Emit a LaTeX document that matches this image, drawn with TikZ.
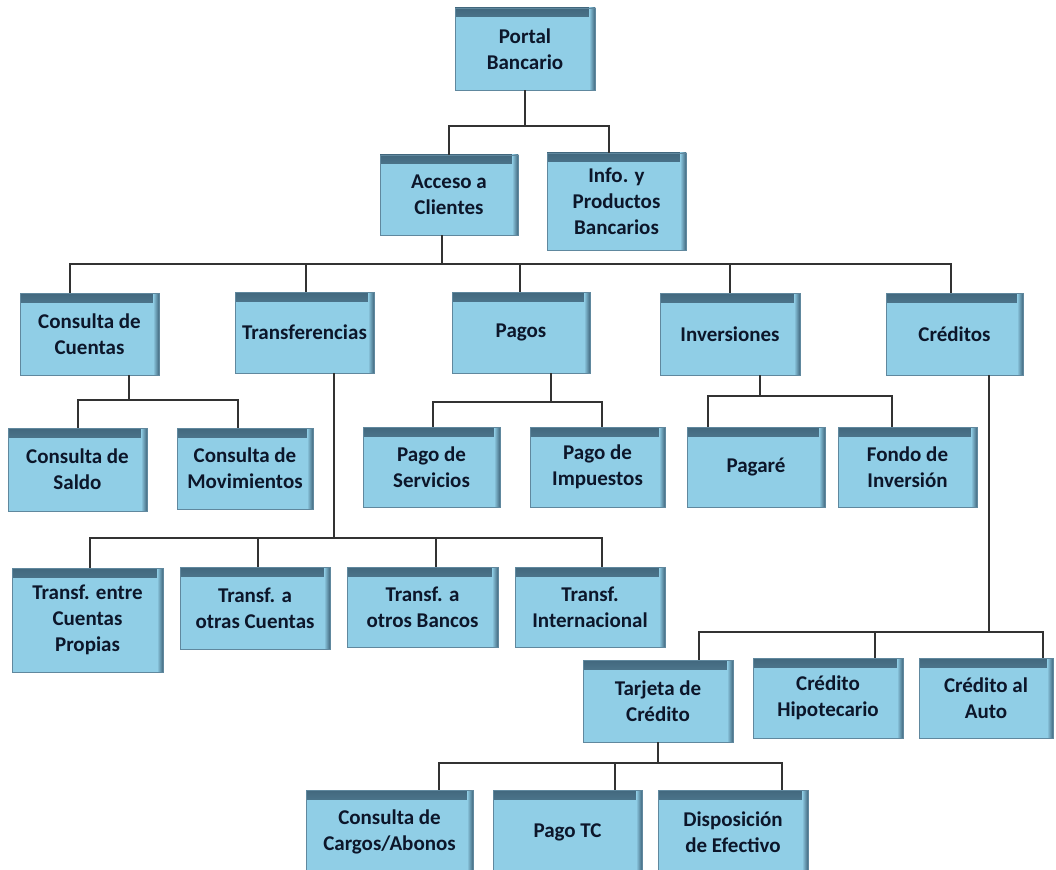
\documentclass[tikz,border=0pt]{standalone}
\usepackage{fontspec}
\setmainfont{Carlito}
\definecolor{boxblue}{RGB}{144,206,230}
\definecolor{edgeblue}{RGB}{66,104,126}
\definecolor{rimblue}{RGB}{96,136,158}
\definecolor{labelnavy}{RGB}{12,22,42}
\definecolor{linkgray}{RGB}{50,50,50}

\tikzset{
  menubox/.style={
    draw=rimblue, line width=0.7pt, fill=boxblue, inner sep=0pt,
    align=center, text=labelnavy,
    font=\fontsize{21}{26}\selectfont\bfseries,
    path picture={
      \shade[top color=edgeblue, bottom color=boxblue]
        (path picture bounding box.north west) rectangle
        ([yshift=-9pt]path picture bounding box.north east);
      \shade[left color=boxblue, right color=edgeblue]
        ([xshift=-6pt]path picture bounding box.north east) rectangle
        (path picture bounding box.south east);
    }},
  link/.style={draw=linkgray, line width=1.3pt},
}

\begin{document}
\begin{tikzpicture}[x=1pt, y=-1pt]
  \useasboundingbox[fill=white] (0,0) rectangle (1056,869);
  \clip (0,0) rectangle (1056,869);

  % level 0 and 1
  \node[menubox, minimum width=140pt, minimum height=82pt] (portal) at (525,49) {Portal\\Bancario};
  \node[menubox, minimum width=138pt, minimum height=80pt] (acceso) at (449,195) {Acceso a\\Clientes};
  \node[menubox, minimum width=139pt, minimum height=97pt] (info) at (616.5,201.5) {Info. y\\Productos\\Bancarios};

  % level 2
  \node[menubox, minimum width=139pt, minimum height=82pt] (ccuentas) at (89.5,334) {Consulta de\\Cuentas};
  \node[menubox, minimum width=139pt, minimum height=81pt] (transf) at (304.5,332.5) {Transferencias};
  \node[menubox, minimum width=138pt, minimum height=81pt] (pagos) at (521,332.5) {Pagos};
  \node[menubox, minimum width=140pt, minimum height=82pt] (invers) at (730,334) {Inversiones};
  \node[menubox, minimum width=137pt, minimum height=82pt] (creditos) at (954.5,334) {Créditos};

  % level 3
  \node[menubox, minimum width=139pt, minimum height=83pt] (saldo) at (77.5,469.5) {Consulta de\\Saldo};
  \node[menubox, minimum width=136pt, minimum height=81pt] (movim) at (245,468.5) {Consulta de\\Movimientos};
  \node[menubox, minimum width=137pt, minimum height=80pt] (servicios) at (431.5,467) {Pago de\\Servicios};
  \node[menubox, minimum width=135pt, minimum height=80pt] (impuestos) at (597.5,467) {Pago de\\Impuestos};
  \node[menubox, minimum width=138pt, minimum height=80pt] (pagare) at (756,467) {Pagaré};
  \node[menubox, minimum width=139pt, minimum height=80pt] (fondo) at (907.5,467) {Fondo de\\Inversión};

  \node[menubox, minimum width=151pt, minimum height=104pt] (tpropias) at (87.5,620) {Transf. entre\\Cuentas\\Propias};
  \node[menubox, minimum width=150pt, minimum height=82pt] (totras) at (255,608) {Transf. a\\otras Cuentas};
  \node[menubox, minimum width=151pt, minimum height=80pt] (tbancos) at (422.5,607) {Transf. a\\otros Bancos};
  \node[menubox, minimum width=150pt, minimum height=80pt] (tintl) at (590,607) {Transf.\\Internacional};

  \node[menubox, minimum width=150pt, minimum height=82pt] (tarjeta) at (658,701) {Tarjeta de\\Crédito};
  \node[menubox, minimum width=150pt, minimum height=80pt] (hipotec) at (828,698) {Crédito\\Hipotecario};
  \node[menubox, minimum width=134pt, minimum height=80pt] (auto) at (986,698) {Crédito al\\Auto};

  \node[menubox, minimum width=167pt, minimum height=84pt] (cargos) at (389.5,832) {Consulta de\\Cargos/Abonos};
  \node[menubox, minimum width=149pt, minimum height=84pt] (pagotc) at (567.5,832) {Pago TC};
  \node[menubox, minimum width=150pt, minimum height=84pt] (dispos) at (733,832) {Disposición\\de Efectivo};

  % bus junctions under each parent
  \coordinate (j1) at (525,126);
  \coordinate (j2) at (442,264);
  \coordinate (j3) at (129,400);
  \coordinate (j4) at (334,538);
  \coordinate (j5) at (551,402);
  \coordinate (j6) at (760,396);
  \coordinate (j7) at (989,632);
  \coordinate (j8) at (658,763);

  % Portal Bancario
  \draw[link] (portal.south) -- (j1);
  \draw[link] (acceso.north) |- (j1);
  \draw[link] ([xshift=-7.5pt]info.north) |- (j1);

  % Acceso a Clientes
  \draw[link] ([xshift=-7pt]acceso.south) -- (j2);
  \draw[link] ([xshift=-19.5pt]ccuentas.north) |- (j2);
  \draw[link] ([xshift=1.5pt]transf.north) |- (j2);
  \draw[link] ([xshift=-1pt]pagos.north) |- (j2);
  \draw[link] (invers.north) |- (j2);
  \draw[link] ([xshift=-3.5pt]creditos.north) |- (j2);

  % Consulta de Cuentas
  \draw[link] ([xshift=39.5pt]ccuentas.south) -- (j3);
  \draw[link] ([xshift=0.5pt]saldo.north) |- (j3);
  \draw[link] ([xshift=-7pt]movim.north) |- (j3);

  % Transferencias
  \draw[link] ([xshift=29.5pt]transf.south) -- (j4);
  \draw[link] ([xshift=2.5pt]tpropias.north) |- (j4);
  \draw[link] ([xshift=3pt]totras.north) |- (j4);
  \draw[link] ([xshift=13.5pt]tbancos.north) |- (j4);
  \draw[link] ([xshift=12pt]tintl.north) |- (j4);

  % Pagos
  \draw[link] ([xshift=30pt]pagos.south) -- (j5);
  \draw[link] ([xshift=1.5pt]servicios.north) |- (j5);
  \draw[link] ([xshift=4.5pt]impuestos.north) |- (j5);

  % Inversiones
  \draw[link] ([xshift=30pt]invers.south) -- (j6);
  \draw[link] ([xshift=-48pt]pagare.north) |- (j6);
  \draw[link] ([xshift=-15.5pt]fondo.north) |- (j6);

  % Creditos
  \draw[link] ([xshift=34.5pt]creditos.south) -- (j7);
  \draw[link] ([xshift=41pt]tarjeta.north) |- (j7);
  \draw[link] ([xshift=47pt]hipotec.north) |- (j7);
  \draw[link] ([xshift=57pt]auto.north) |- (j7);

  % Tarjeta de Credito
  \draw[link] (tarjeta.south) -- (j8);
  \draw[link] ([xshift=49.5pt]cargos.north) |- (j8);
  \draw[link] ([xshift=47.5pt]pagotc.north) |- (j8);
  \draw[link] ([xshift=49pt]dispos.north) |- (j8);
\end{tikzpicture}
\end{document}
